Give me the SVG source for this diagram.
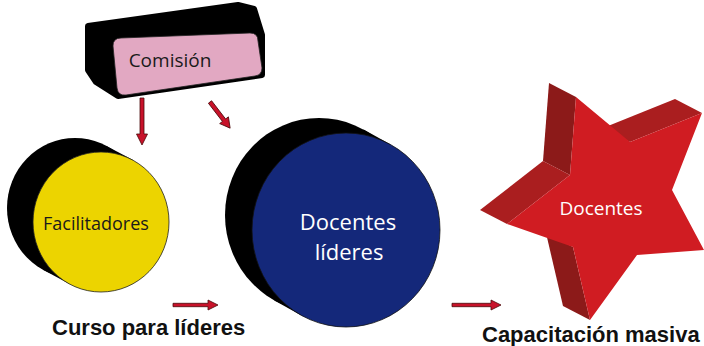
<svg xmlns="http://www.w3.org/2000/svg" width="704" height="346" viewBox="0 0 704 346">
<style>
.lbl{font-family:"Open Sans","Noto Sans",sans-serif;text-anchor:middle}
.cap{font-family:"Liberation Sans",Arial,sans-serif;font-weight:bold;font-size:22px;fill:#111}
.arrow{fill:#c8122a;stroke:#4a0a0a;stroke-width:0.8;stroke-linejoin:miter}
.back{fill:#000}
.dk{fill:#8c1a19}
.md{fill:#aa1e1f}
</style>
<rect width="704" height="346" fill="#fff"/>
<g id="comision">
<polygon class="back" points="88,26 238,5 254,9 262,35 262,75 118,96 96,82 88,70" stroke="#000" stroke-width="6" stroke-linejoin="round"/>
<path d="M121,38 L250,33 Q258,33 258,41 L262,68 Q262,75 255,76 L126,95 Q118,96 117,88 L113,46 Q113,38 121,38 Z" fill="#e2a8c2" stroke="#222" stroke-width="0.8"/>
<text class="lbl" x="170" y="67" font-size="19" fill="#1a1a1a">Comisión</text>
</g>
<g id="facilitadores">
<ellipse class="back" cx="75" cy="208" rx="68" ry="70"/>
<polygon class="back" points="106.5,146 133,160 69.5,284 43.5,270"/>
<ellipse cx="101" cy="222" rx="68" ry="70" fill="#ecd400" stroke="#222" stroke-width="0.8"/>
<text class="lbl" x="96" y="230" font-size="18" fill="#1a1a1a">Facilitadores</text>
</g>
<g id="docentes-lideres">
<ellipse class="back" cx="319" cy="215" rx="94" ry="97"/>
<polygon class="back" points="363.6,129.6 390.6,144.6 301.4,315.4 274.4,300.4"/>
<ellipse cx="346" cy="230" rx="94" ry="97" fill="#14287a" stroke="#111" stroke-width="0.8"/>
<text class="lbl" x="348" y="230" font-size="22" fill="#fff">Docentes</text>
<text class="lbl" x="349" y="260" font-size="22" fill="#fff">líderes</text>
</g>
<g id="docentes">
<polygon class="dk" points="549,83 576,97 570,175 543,161"/>
<polygon class="md" points="543,161 570,175 507,224 480,210"/>
<polygon class="md" points="603,128 675,99 702,113 630,142"/>
<polygon class="dk" points="546,233 573,247 590,320 563,306"/>
<polygon fill="#d01c22" points="576,97 630,142 702,113 672,190 704,250 637,255 590,320 573,247 507,224 570,175"/>
<text class="lbl" x="601" y="215" font-size="19" fill="#fff">Docentes</text>
</g>
<g id="connectors">
<polygon class="arrow" points="140,98 144,98 144,134 147.5,134 142,145 136.5,134 140,134"/>
<polygon class="arrow" transform="translate(210,102) rotate(52.4)" points="0,-2 23,-2 23,-5.5 33,0 23,5.5 23,2 0,2"/>
<polygon class="arrow" transform="translate(173,305)" points="0,-1.7 35,-1.7 35,-5 45,0 35,5 35,1.7 0,1.7"/>
<polygon class="arrow" transform="translate(452,305)" points="0,-1.7 39,-1.7 39,-5 49,0 39,5 39,1.7 0,1.7"/>
</g>
<g id="label-curso">
<text class="cap" x="52" y="335">Curso para líderes</text>
</g>
<g id="label-capacitacion">
<text class="cap" x="482" y="342">Capacitación masiva</text>
</g>
</svg>
